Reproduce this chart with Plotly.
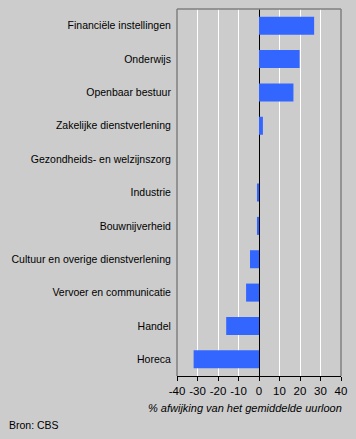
import plotly.graph_objects as go

categories = [
    "Financiële instellingen",
    "Onderwijs",
    "Openbaar bestuur",
    "Zakelijke dienstverlening",
    "Gezondheids- en welzijnszorg",
    "Industrie",
    "Bouwnijverheid",
    "Cultuur en overige dienstverlening",
    "Vervoer en communicatie",
    "Handel",
    "Horeca",
]
values = [26.9, 19.8, 16.8, 1.9, 0.0, -1.0, -1.0, -4.4, -6.3, -16.0, -31.9]
x_ticks = [-40, -30, -20, -10, 0, 10, 20, 30, 40]

FONT = "Liberation Sans, Arial, sans-serif"

fig = go.Figure(
    go.Bar(
        y=categories,
        x=values,
        orientation="h",
        marker=dict(color="#3366ff", line=dict(width=0)),
    )
)

W, H = 356, 439
ml, mr, mt, mb = 177, 15, 9, 63

fig.update_layout(
    width=W,
    height=H,
    margin=dict(l=ml, r=mr, t=mt, b=mb, pad=0),
    paper_bgcolor="#cccccc",
    plot_bgcolor="#cccccc",
    bargap=0.46,
    showlegend=False,
    font=dict(family=FONT, size=10.5, color="black"),
    xaxis=dict(
        range=[-40, 40],
        tickvals=x_ticks,
        ticktext=[str(v) for v in x_ticks],
        showgrid=True,
        gridcolor="white",
        gridwidth=1,
        zeroline=True,
        zerolinecolor="black",
        zerolinewidth=1,
        showline=True,
        linecolor="black",
        linewidth=1,
        ticks="outside",
        ticklen=4,
        tickcolor="black",
        tickfont=dict(size=11.5),
        fixedrange=True,
    ),
    yaxis=dict(
        categoryorder="array",
        categoryarray=categories,
        autorange="reversed",
        showgrid=False,
        zeroline=False,
        showline=False,
        ticks="outside",
        ticklen=3,
        tickcolor="rgba(0,0,0,0)",
        tickfont=dict(size=10.5),
        fixedrange=True,
    ),
    shapes=[
        dict(type="line", xref="paper", yref="paper", x0=0, x1=1, y0=1, y1=1,
             line=dict(color="#808080", width=1.5)),
        dict(type="line", xref="paper", yref="paper", x0=0, x1=0, y0=0, y1=1,
             line=dict(color="#808080", width=1.5)),
        dict(type="line", xref="paper", yref="paper", x0=1, x1=1, y0=0, y1=1,
             line=dict(color="#808080", width=1.5)),
    ],
    annotations=[
        dict(
            text="<i>% afwijking van het gemiddelde uurloon</i>",
            xref="paper", yref="paper",
            x=(344 - ml) / (W - ml - mr), y=-(408 - (H - mb)) / (H - mt - mb),
            xanchor="right", yanchor="middle",
            showarrow=False,
            font=dict(size=11, color="black"),
        ),
        dict(
            text="Bron: CBS",
            xref="paper", yref="paper",
            x=-(ml - 7) / (W - ml - mr), y=-(425 - (H - mb)) / (H - mt - mb),
            xanchor="left", yanchor="middle",
            showarrow=False,
            font=dict(size=10.5, color="black"),
        ),
    ],
)

fig.write_html(
    "out.html",
    config={"displayModeBar": False, "staticPlot": True},
    post_script="document.body.style.margin='0';document.body.style.padding='0';document.body.style.background='#cccccc';",
)
